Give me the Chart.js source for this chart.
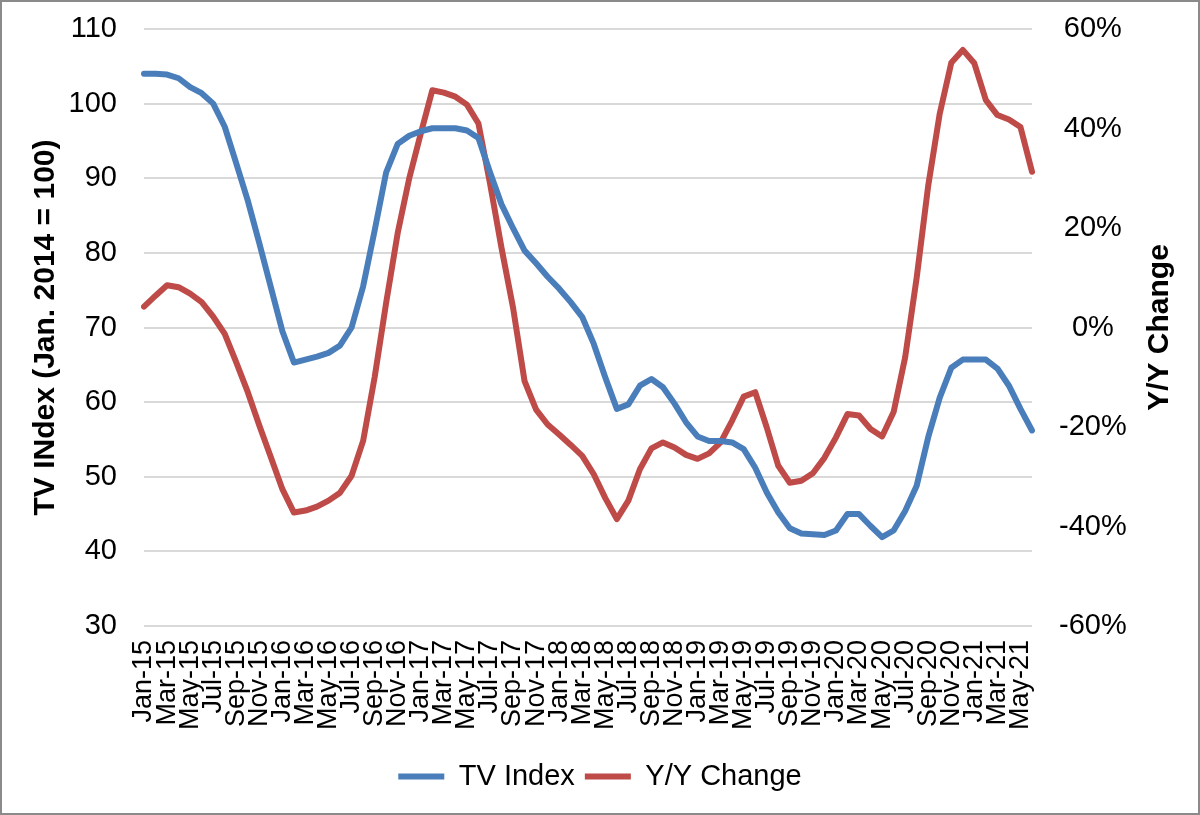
<!DOCTYPE html>
<html>
<head>
<meta charset="utf-8">
<script src="https://cdn.jsdelivr.net/npm/chart.js@4/dist/chart.umd.min.js"></script>
<style>
  html, body { margin: 0; padding: 0; background: #fff; }
  #wrap { width: 1200px; height: 815px; position: relative; }
</style>
</head>
<body>
<div id="wrap"><canvas id="c" width="1200" height="815"></canvas></div>
<script>
// ---- Data (monthly, Jan-15 .. Jun-21) ----
const months = [
  'Jan-15','Feb-15','Mar-15','Apr-15','May-15','Jun-15','Jul-15','Aug-15','Sep-15','Oct-15','Nov-15','Dec-15',
  'Jan-16','Feb-16','Mar-16','Apr-16','May-16','Jun-16','Jul-16','Aug-16','Sep-16','Oct-16','Nov-16','Dec-16',
  'Jan-17','Feb-17','Mar-17','Apr-17','May-17','Jun-17','Jul-17','Aug-17','Sep-17','Oct-17','Nov-17','Dec-17',
  'Jan-18','Feb-18','Mar-18','Apr-18','May-18','Jun-18','Jul-18','Aug-18','Sep-18','Oct-18','Nov-18','Dec-18',
  'Jan-19','Feb-19','Mar-19','Apr-19','May-19','Jun-19','Jul-19','Aug-19','Sep-19','Oct-19','Nov-19','Dec-19',
  'Jan-20','Feb-20','Mar-20','Apr-20','May-20','Jun-20','Jul-20','Aug-20','Sep-20','Oct-20','Nov-20','Dec-20',
  'Jan-21','Feb-21','Mar-21','Apr-21','May-21','Jun-21'
];

const tvIndex = [
  104.0, 104.0, 103.9, 103.4, 102.2, 101.4, 100.0, 96.9, 92.0, 87.0, 81.3, 75.4,
  69.5, 65.3, 65.7, 66.1, 66.6, 67.6, 70.0, 75.5, 83.0, 90.8, 94.6, 95.7,
  96.3, 96.7, 96.7, 96.7, 96.4, 95.4, 90.8, 86.5, 83.3, 80.3, 78.6, 76.8,
  75.2, 73.4, 71.4, 67.8, 63.3, 59.1, 59.7, 62.2, 63.1, 62.0, 59.8, 57.3,
  55.4, 54.8, 54.8, 54.6, 53.7, 51.2, 47.9, 45.2, 43.1, 42.4, 42.3, 42.2,
  42.8, 45.0, 45.0, 43.4, 41.9, 42.8, 45.4, 48.8, 55.3, 60.6, 64.6, 65.7,
  65.7, 65.7, 64.5, 62.2, 59.1, 56.2
];

const yoyChange = [
  4.2, 6.4, 8.5, 8.1, 6.8, 5.1, 2.2, -1.3, -7.0, -13.0, -19.7, -26.1,
  -32.5, -37.2, -36.8, -36.0, -34.8, -33.2, -29.8, -22.8, -10.0, 5.0, 19.0, 30.0,
  39.0, 47.7, 47.2, 46.4, 44.8, 41.0, 29.0, 16.0, 4.0, -10.8, -16.5, -19.5,
  -21.5, -23.6, -25.8, -29.5, -34.3, -38.5, -34.8, -28.5, -24.3, -23.1, -24.1, -25.6,
  -26.4, -25.3, -23.1, -18.7, -13.9, -13.0, -20.1, -27.8, -31.2, -30.8, -29.3, -26.2,
  -22.1, -17.4, -17.7, -20.4, -21.9, -17.0, -6.0, 10.0, 28.5, 43.0, 53.2, 55.8,
  53.1, 45.7, 42.7, 41.8, 40.3, 31.3
];

const seriesNames = ['TV Index', 'Y/Y Change'];
const leftAxisTitle = 'TV INdex (Jan. 2014 = 100)';
const rightAxisTitle = 'Y/Y Change';

const BLUE = '#4A7EBB';
const RED = '#BE4B48';
const FONT = "'Liberation Sans', Arial, sans-serif";

const frame = {
  id: 'frame',
  beforeDraw(chart) {
    const ctx = chart.ctx;
    ctx.save();
    ctx.fillStyle = '#ffffff';
    ctx.fillRect(0, 0, chart.width, chart.height);
    ctx.restore();
  },
  afterDraw(chart) {
    const ctx = chart.ctx;
    const area = chart.chartArea;
    ctx.save();
    ctx.strokeStyle = '#8a8a8a';
    ctx.lineWidth = 2;
    ctx.strokeRect(1, 1, chart.width - 2, chart.height - 2);
    // right axis title, reading bottom-to-top
    ctx.translate(1160, (area.top + area.bottom) / 2);
    ctx.rotate(-Math.PI / 2);
    ctx.fillStyle = '#000';
    ctx.font = "bold 30px " + FONT;
    ctx.textAlign = 'center';
    ctx.textBaseline = 'middle';
    ctx.fillText(rightAxisTitle, 0, 0);
    ctx.restore();
  }
};

new Chart(document.getElementById('c'), {
  type: 'line',
  data: {
    labels: months,
    datasets: [
      {
        label: seriesNames[0],
        data: tvIndex,
        yAxisID: 'y',
        borderColor: BLUE,
        backgroundColor: BLUE,
        borderWidth: 6,
        pointRadius: 0,
        tension: 0,
        borderJoinStyle: 'round',
        borderCapStyle: 'round'
      },
      {
        label: seriesNames[1],
        data: yoyChange,
        yAxisID: 'y1',
        borderColor: RED,
        backgroundColor: RED,
        borderWidth: 6,
        pointRadius: 0,
        tension: 0,
        borderJoinStyle: 'round',
        borderCapStyle: 'round'
      }
    ]
  },
  options: {
    responsive: false,
    animation: false,
    devicePixelRatio: 1,
    layout: { padding: { top: 29, left: 0, right: 0, bottom: 14 } },
    plugins: {
      legend: {
        position: 'bottom',
        labels: {
          color: '#000',
          font: { family: FONT, size: 29 },
          boxWidth: 46,
          boxHeight: 6,
          padding: 10,
          generateLabels(chart) {
            return Chart.defaults.plugins.legend.labels.generateLabels(chart).map(l => ({
              ...l, lineWidth: 0, fillStyle: l.strokeStyle
            }));
          }
        }
      },
      tooltip: { enabled: false }
    },
    scales: {
      x: {
        offset: false,
        grid: { display: false, drawTicks: false },
        border: { display: false },
        ticks: {
          autoSkip: false,
          minRotation: 90,
          maxRotation: 90,
          padding: 14,
          color: '#000',
          font: { family: FONT, size: 27 },
          callback: (v, i) => (i % 2 === 0 ? months[i] : '')
        },
        afterFit(scale) { scale.height = 126; }
      },
      y: {
        position: 'left',
        min: 30,
        max: 110,
        ticks: {
          stepSize: 10,
          padding: 0,
          color: '#000',
          font: { family: FONT, size: 29 }
        },
        grid: { color: '#d9d9d9', lineWidth: 2, drawTicks: true, tickLength: 27, tickColor: 'rgba(0,0,0,0)' },
        border: { display: false },
        title: {
          display: true,
          text: leftAxisTitle,
          color: '#000',
          font: { family: FONT, size: 30, weight: 'bold' },
          padding: { top: 28, bottom: 0 }
        },
        afterFit(scale) { scale.width = 144; }
      },
      y1: {
        position: 'right',
        min: -60,
        max: 60,
        ticks: {
          stepSize: 20,
          padding: 0,
          crossAlign: 'center',
          color: '#000',
          font: { family: FONT, size: 29 },
          callback: v => v + '%'
        },
        grid: { display: true, drawOnChartArea: false, color: 'rgba(0,0,0,0)', drawTicks: true, tickLength: 27, tickColor: 'rgba(0,0,0,0)' },
        border: { display: false },
        afterFit(scale) { scale.width = 168; }
      }
    }
  },
  plugins: [frame]
});
</script>
</body>
</html>
